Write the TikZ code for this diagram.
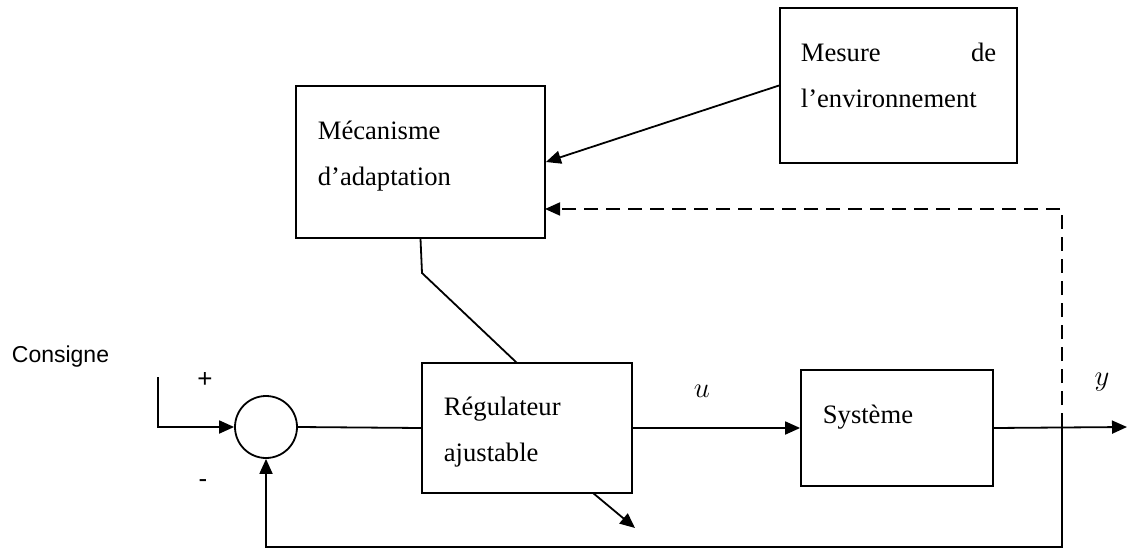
\documentclass[tikz,border=0pt]{standalone}
\usepackage{fontspec}
\setmainfont{Liberation Serif}
\setsansfont{Liberation Sans}
\usetikzlibrary{arrows.meta}
\tikzset{
  bloc/.style={draw, line width=0.9pt, rectangle, inner sep=0pt},
  somme/.style={draw, line width=0.9pt, circle, inner sep=0pt, minimum size=31pt},
  txt/.style={inner sep=0pt, font=\fontsize{13.3pt}{16pt}\selectfont},
  signe/.style={inner sep=0pt, font=\sffamily\fontsize{13pt}{15pt}\selectfont},
  consigne/.style={inner sep=0pt, font=\sffamily\fontsize{11.5pt}{14pt}\selectfont},
  fleche/.style={-{Triangle[length=7.5pt,width=6.5pt]}},
  pointille/.style={dash pattern=on 7pt off 4pt}
}
\begin{document}
\begin{tikzpicture}[x=0.5pt,y=-0.5pt,line width=0.9pt]
  \useasboundingbox (0,0) rectangle (1127,550);
  % blocs
  \node[bloc, minimum width=124.5pt, minimum height=76pt] (mec) at (420.5,162) {};
  \node[bloc, minimum width=118.5pt, minimum height=77.5pt] (mes) at (898.5,85.5) {};
  \node[bloc, minimum width=105pt, minimum height=65pt] (reg) at (527,428) {};
  \node[bloc, minimum width=96pt, minimum height=58pt] (sys) at (897,428) {};
  \node[somme] (sum) at (266,427) {};
  % textes
  \node[txt, anchor=base west] (mes1) at (800,62) {Mesure};
  \node[txt, anchor=base east] (mes2) at (997,62) {de};
  \node[txt, anchor=base west] (mes3) at (800,108) {l’environnement};
  \node[txt, anchor=base west] (mec1) at (317,140) {Mécanisme};
  \node[txt, anchor=base west] (mec2) at (317,186) {d’adaptation};
  \node[txt, anchor=base west] (reg1) at (443,415) {Régulateur};
  \node[txt, anchor=base west] (reg2) at (443,461) {ajustable};
  \node[txt, anchor=base west] (sys1) at (822,423) {Système};
  \node[txt] (lu) at (702,391) {$u$};
  \node[txt] (ly) at (1102,382) {$y$};
  \node[consigne, anchor=base east] (cons) at (110,362) {Consigne};
  \node[signe] (plus) at (205,380) {+};
  \node[signe] (moins) at (203,484) {-};
  % points de passage
  \coordinate (entree) at (158,377);
  \coordinate (br) at (1062,427);
  \coordinate (bas) at (1062,547);
  \coordinate (mecin) at (545,209);
  \coordinate (coude) at (422,273);
  \coordinate (regin) at (517,363);
  \coordinate (regout) at (593,493);
  \coordinate (pert) at (635,528);
  \coordinate (sortie) at (1127,427);
  % liaisons
  \draw[fleche] (entree) |- (sum.west);
  \draw (sum.east) -- (reg.west);
  \draw[fleche] (reg.east) -- (sys.west);
  \draw[fleche] (sys.east) -- (sortie);
  \draw[fleche] (br) -- (bas) -| (sum.south);
  \draw[fleche, pointille] (br) |- (mecin);
  \draw[fleche] (mes.west) -- (mec.east);
  \draw (mec.south) -- (coude) -- (regin);
  \draw[fleche] (regout) -- (pert);
\end{tikzpicture}
\end{document}
